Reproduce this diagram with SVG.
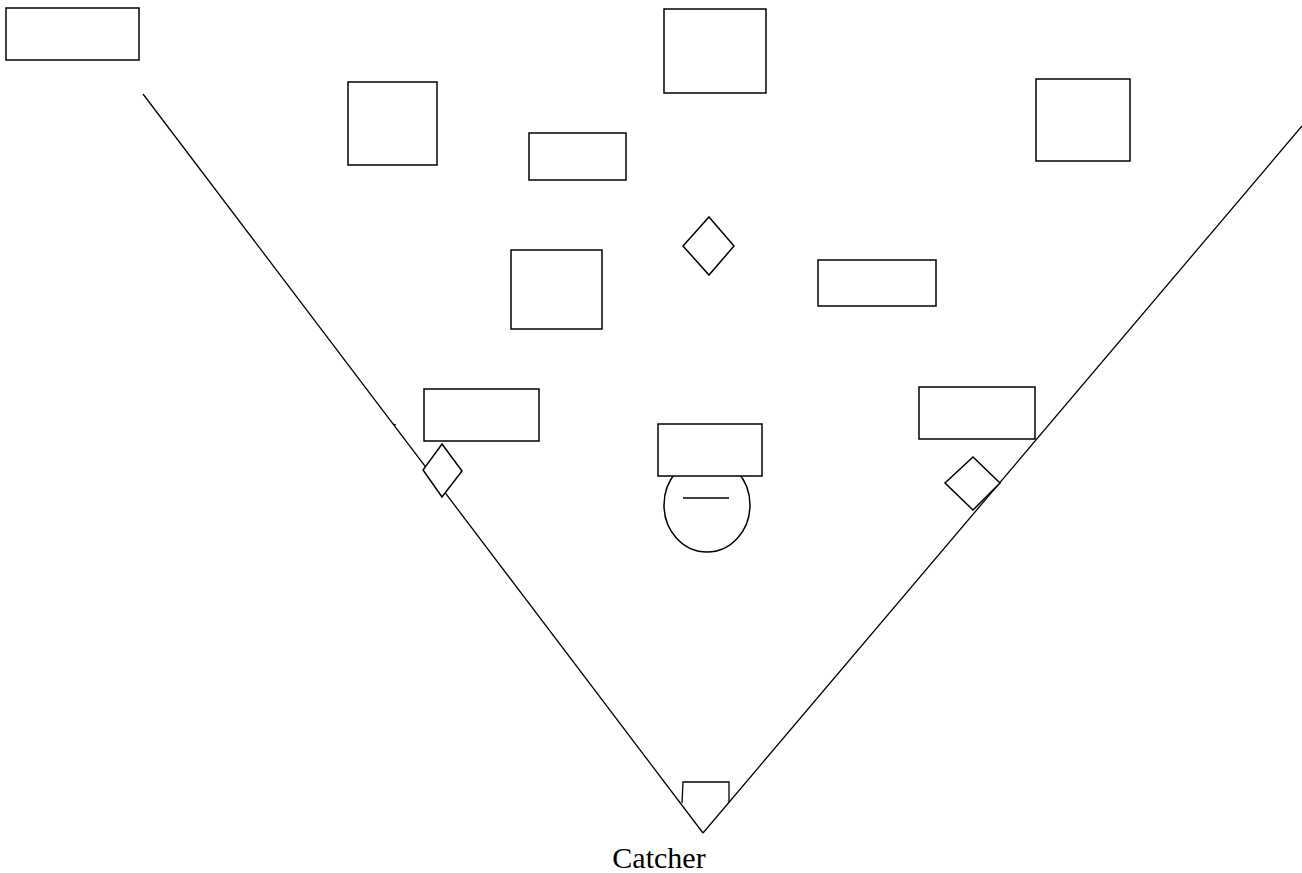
<svg xmlns="http://www.w3.org/2000/svg" width="1302" height="873" viewBox="0 0 1302 873">
  <style>
    .box { fill: #ffffff; stroke: #000000; stroke-width: 1.5; }
    .ln { fill: none; stroke: #000000; stroke-width: 1.3; }
    .lbl { font-family: "Liberation Serif", "Times New Roman", serif; font-size: 30px; fill: #000000; }
  </style>
  <rect width="1302" height="873" fill="#ffffff"/>

  <!-- foul lines and plate -->
  <g id="connectors">
    <line class="ln" x1="143" y1="94" x2="703" y2="833"/>
    <line class="ln" x1="1302" y1="126" x2="703" y2="833"/>
    <line class="ln" x1="393" y1="424" x2="396" y2="425"/>
  </g>

  <g id="home-plate">
    <polyline class="ln" points="682,803 683,782 729,782 729,803"/>
  </g>

  <!-- bases -->
  <g id="second-base"><polygon class="box" points="709,217 734,246 709,275 683,246"/></g>
  <g id="third-base"><polygon class="box" points="442,444 462,471 442,497 423,470"/></g>
  <g id="first-base"><polygon class="box" points="973,457 1000,483 973,510 945,483"/></g>

  <!-- pitcher -->
  <g id="pitcher">
    <ellipse class="box" cx="707" cy="505" rx="43" ry="47"/>
    <line class="ln" x1="683" y1="498" x2="729" y2="498"/>
    <rect class="box" x="658" y="424" width="104" height="52"/>
  </g>

  <!-- fielders -->
  <g id="box-top-left"><rect class="box" x="6" y="8" width="133" height="52"/></g>
  <g id="box-left-field"><rect class="box" x="348" y="82" width="89" height="83"/></g>
  <g id="box-center-field"><rect class="box" x="664" y="9" width="102" height="84"/></g>
  <g id="box-right-field"><rect class="box" x="1036" y="79" width="94" height="82"/></g>
  <g id="box-short-deep"><rect class="box" x="529" y="133" width="97" height="47"/></g>
  <g id="box-shortstop"><rect class="box" x="511" y="250" width="91" height="79"/></g>
  <g id="box-second"><rect class="box" x="818" y="260" width="118" height="46"/></g>
  <g id="box-third"><rect class="box" x="424" y="389" width="115" height="52"/></g>
  <g id="box-first"><rect class="box" x="919" y="387" width="116" height="52"/></g>

  <g id="catcher">
    <text class="lbl" x="659" y="868" text-anchor="middle">Catcher</text>
  </g>
</svg>
